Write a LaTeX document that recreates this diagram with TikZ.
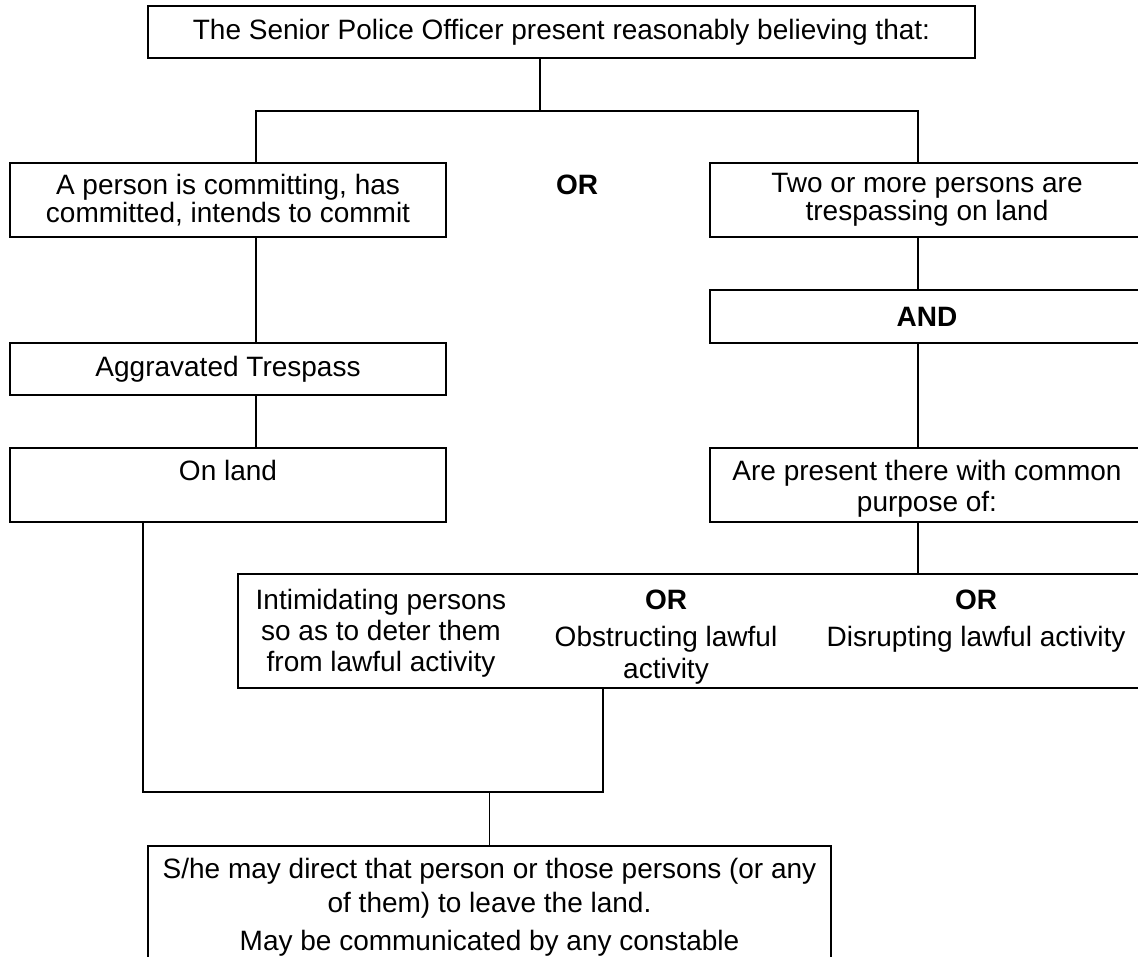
\documentclass[tikz,border=0pt]{standalone}
\usepackage{fontspec}
\setmainfont{Liberation Sans}
\usepackage{tikz}
\tikzstyle{cadre} = [rectangle, draw=black, line width=2pt, align=flush center, inner sep=0pt]
\tikzstyle{trait} = [line width=1.6pt]

\begin{document}
\begin{tikzpicture}[x=1pt, y=-1pt, font=\fontsize{28}{31}\selectfont]

        \useasboundingbox (0,0) rectangle (1138,957);
        \clip (0,0) rectangle (1138,957);

        \node (officer) [cadre, minimum width=827pt, minimum height=52pt] at (561.5,32) {The Senior Police Officer present reasonably believing that:};

        \node (person) [cadre, minimum width=436pt, minimum height=74pt, font=\fontsize{28}{28}\selectfont] at (228,200) {A person is committing, has\\committed, intends to commit};
        \node (either) at (577,185) {\textbf{OR}};
        \node (two) [cadre, minimum width=434pt, minimum height=74pt, font=\fontsize{28}{28}\selectfont] at (927,200) {Two or more persons are\\trespassing on land};

        \node (aggravated) [cadre, minimum width=436pt, minimum height=52pt] at (228,369) {Aggravated Trespass};
        \node (onland) [cadre, minimum width=436pt, text height=32pt, text depth=42pt] at (228,485) {On land};

        \node (and) [cadre, minimum width=434pt, minimum height=53pt] at (927,316.5) {\textbf{AND}};
        \node (purpose) [cadre, text width=418pt, inner xsep=8pt, text height=32pt, text depth=42pt, font=\fontsize{28}{31}\selectfont] at (927,485) {Are present there with common\\purpose of:};

        \node (activity) [cadre, minimum width=906pt, text height=35pt, text depth=79pt] at (691,631) {%
            \parbox[t]{284pt}{\centering Intimidating persons\\so as to deter them\\from lawful activity}%
            \parbox[t]{286pt}{\centering \textbf{OR}\\[6pt]Obstructing lawful\\[1pt]activity}%
            \parbox[t]{334pt}{\centering \textbf{OR}\\[6pt]Disrupting lawful activity}};

        \node (leave) [cadre, anchor=north, text width=667pt, inner xsep=8pt, inner ysep=8pt, text height=24pt, text depth=110pt, font=\fontsize{28}{34}\selectfont] at (489.5,845) {S/he may direct that person or those persons (or any\\of them) to leave the land.\\[4pt]May be communicated by any constable};

        \coordinate (fork) at (540,111);
        \coordinate (leftline) at (256,0);
        \coordinate (rightline) at (918,0);
        \coordinate (landline) at (143,0);
        \coordinate (joinline) at (603,0);
        \coordinate (merge) at (489.5,792);

        \draw[trait] (officer.south -| fork) -- (fork);
        \draw[trait] (person.north -| leftline) |- (fork) -| (two.north -| rightline);

        \draw[trait] (person.south -| leftline) -- (aggravated.north -| leftline);
        \draw[trait] (aggravated.south -| leftline) -- (onland.north -| leftline);

        \draw[trait] (two.south -| rightline) -- (and.north -| rightline);
        \draw[trait] (and.south -| rightline) -- (purpose.north -| rightline);
        \draw[trait] (purpose.south -| rightline) -- (activity.north -| rightline);

        \draw[trait] (onland.south -| landline) |- (merge) -| (activity.south -| joinline);
        \draw[trait] (merge) -- (leave.north -| merge);

\end{tikzpicture}
\end{document}
